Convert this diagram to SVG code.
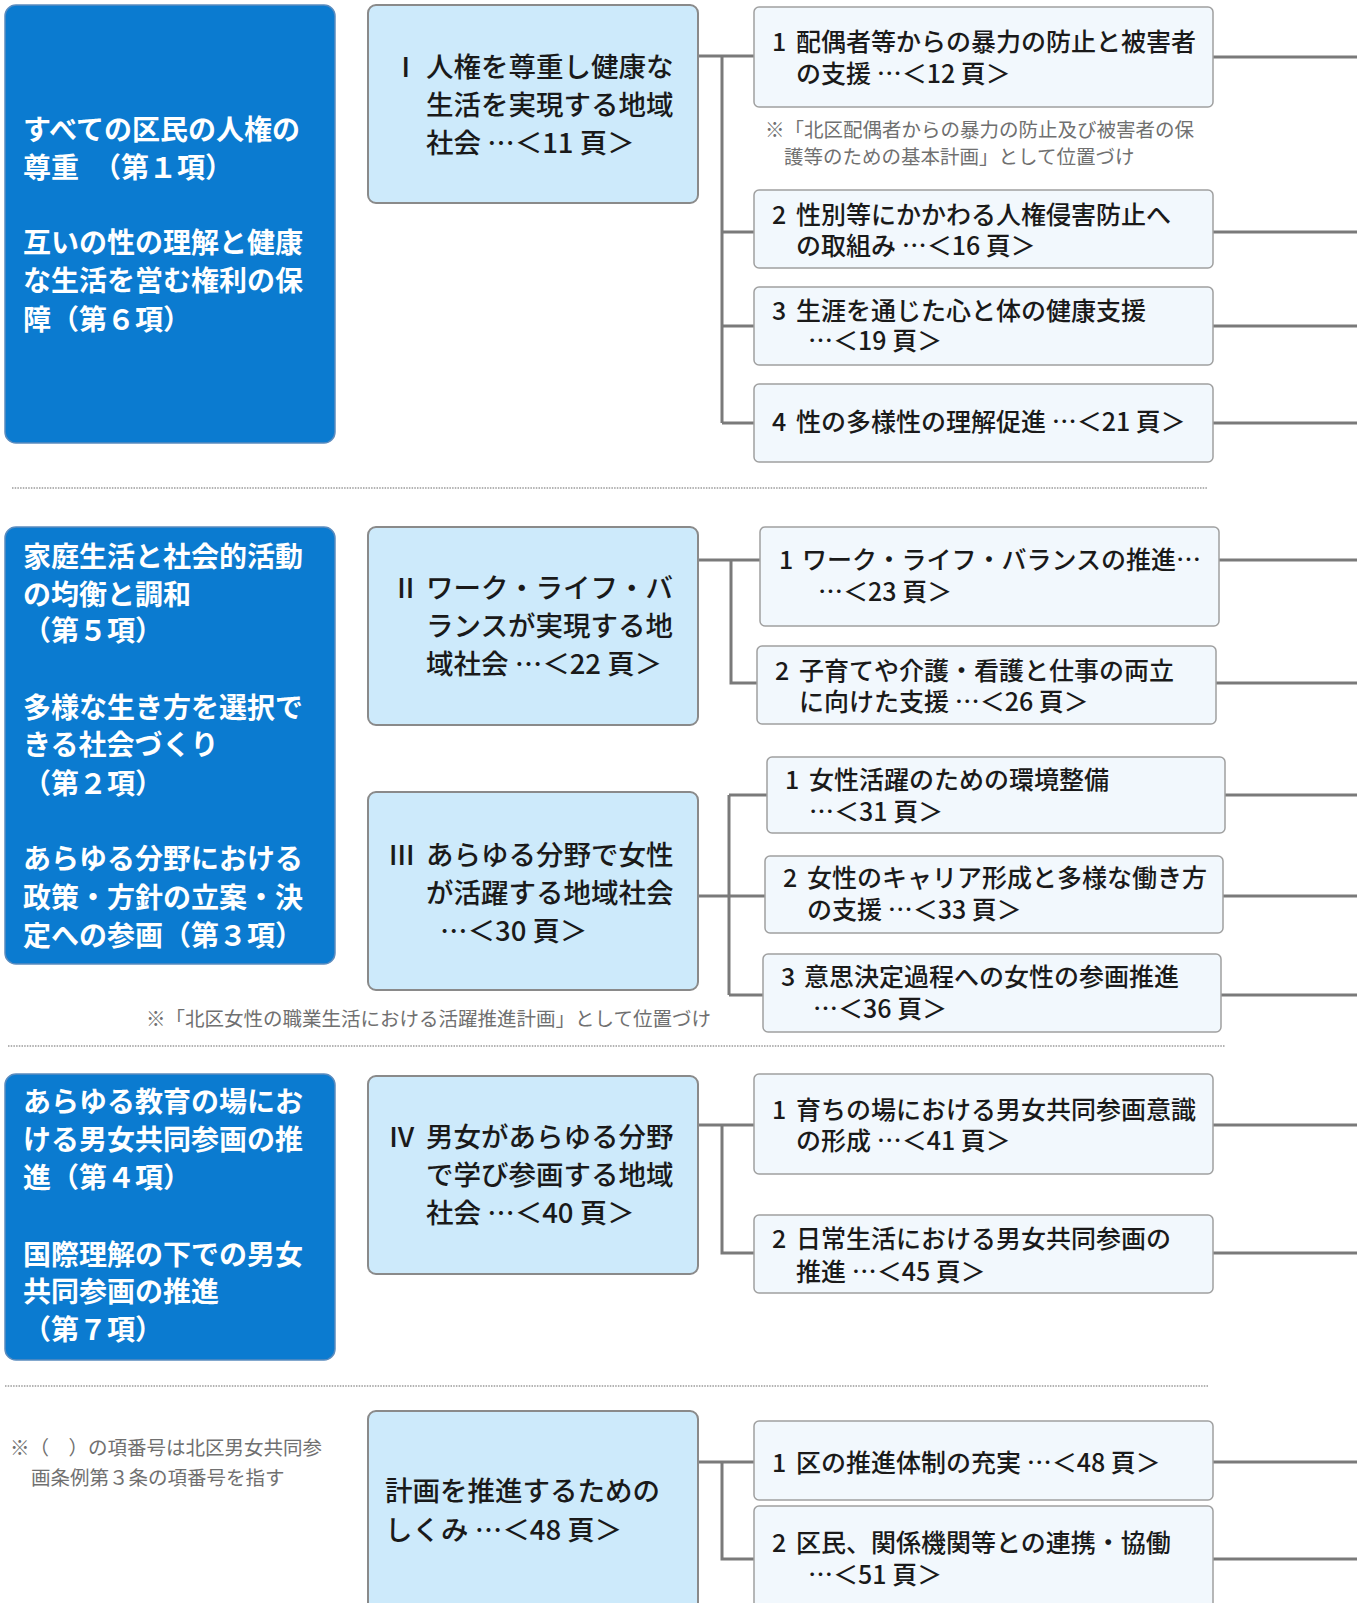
<svg xmlns="http://www.w3.org/2000/svg" width="1365" height="1603" viewBox="0 0 1365 1603">
<style>
.bg{fill:#ffffff}
.blue{fill:#0b7bd0;stroke:#5b8cbf;stroke-width:1.5}
.mid{fill:#cdeafb;stroke:#8a8a8a;stroke-width:2}
.sub{fill:#f2f8fd;stroke:#a0a0a0;stroke-width:1.5}
.tw{font-family:"Noto Sans CJK JP","Noto Sans",sans-serif;font-size:28px;font-weight:bold;fill:#ffffff}
.tm{font-family:"Noto Sans CJK JP","Noto Sans",sans-serif;font-size:27.5px;font-weight:500;fill:#1a1a1a}
.ts{font-family:"Noto Sans CJK JP","Noto Sans",sans-serif;font-size:25px;font-weight:500;fill:#1a1a1a}
.tn{font-family:"Noto Sans CJK JP","Noto Sans",sans-serif;font-size:19.5px;fill:#707070}
.ln{fill:none;stroke:#7a7a7a;stroke-width:3}
.dot{fill:none;stroke:#9a9a9a;stroke-width:1.5;stroke-dasharray:1.5 1.2}
</style>
<rect class="bg" x="0" y="0" width="1365" height="1603"/>

<g id="separators">
<line class="dot" x1="12" y1="488" x2="1208" y2="488"/>
<line class="dot" x1="8" y1="1046" x2="1225" y2="1046"/>
<line class="dot" x1="5" y1="1386" x2="1208" y2="1386"/>
</g>

<g id="connectors">
<path class="ln" d="M698 56 H754 M722 56 V423 M722 232 H754 M722 326 H754 M722 423 H754"/>
<path class="ln" d="M1213 57 H1357 M1213 232 H1357 M1213 326 H1357 M1213 423 H1357"/>
<path class="ln" d="M698 560 H760 M731 560 V683 H757"/>
<path class="ln" d="M1219 560 H1357 M1216 683 H1357"/>
<path class="ln" d="M698 896 H765 M729 795 V995 M729 795 H767 M729 995 H763"/>
<path class="ln" d="M1225 795 H1357 M1223 896 H1357 M1221 995 H1357"/>
<path class="ln" d="M698 1125 H754 M722 1125 V1253 H754"/>
<path class="ln" d="M1213 1125 H1357 M1213 1253 H1357"/>
<path class="ln" d="M698 1462 H754 M722 1462 V1559 H754"/>
<path class="ln" d="M1213 1462 H1357 M1213 1559 H1357"/>
</g>

<g id="blueA">
<rect class="blue" x="5" y="5" width="330" height="438" rx="11"/>
<text class="tw" x="23" y="140">すべての区民の人権の<tspan x="23" dy="38">尊重　（第１項）</tspan><tspan x="23" dy="75">互いの性の理解と健康</tspan><tspan x="23" dy="38">な生活を営む権利の保</tspan><tspan x="23" dy="39">障（第６項）</tspan></text>
</g>
<g id="blueB">
<rect class="blue" x="5" y="527" width="330" height="437" rx="11"/>
<text class="tw" x="23" y="567">家庭生活と社会的活動<tspan x="23" dy="38">の均衡と調和</tspan><tspan x="23" dy="36">（第５項）</tspan><tspan x="23" dy="77">多様な生き方を選択で</tspan><tspan x="23" dy="37">きる社会づくり</tspan><tspan x="23" dy="39">（第２項）</tspan><tspan x="23" dy="75">あらゆる分野における</tspan><tspan x="23" dy="39">政策・方針の立案・決</tspan><tspan x="23" dy="38">定への参画（第３項）</tspan></text>
</g>
<g id="blueC">
<rect class="blue" x="5" y="1074" width="330" height="286" rx="11"/>
<text class="tw" x="23" y="1112">あらゆる教育の場にお<tspan x="23" dy="38">ける男女共同参画の推</tspan><tspan x="23" dy="38">進（第４項）</tspan><tspan x="23" dy="77">国際理解の下での男女</tspan><tspan x="23" dy="37">共同参画の推進</tspan><tspan x="23" dy="38">（第７項）</tspan></text>
</g>

<g id="goal1">
<rect class="mid" x="368" y="5" width="330" height="198" rx="8"/>
<text class="tm" x="392" y="77">Ⅰ</text>
<text class="tm" x="426" y="77">人権を尊重し健康な<tspan x="426" dy="38">生活を実現する地域</tspan><tspan x="426" dy="38">社会 …＜11 頁＞</tspan></text>
</g>
<g id="goal2">
<rect class="mid" x="368" y="527" width="330" height="198" rx="8"/>
<text class="tm" x="392" y="598">Ⅱ</text>
<text class="tm" x="426" y="598">ワーク・ライフ・バ<tspan x="426" dy="38">ランスが実現する地</tspan><tspan x="426" dy="38">域社会 …＜22 頁＞</tspan></text>
</g>
<g id="goal3">
<rect class="mid" x="368" y="792" width="330" height="198" rx="8"/>
<text class="tm" x="388" y="865">Ⅲ</text>
<text class="tm" x="426" y="865">あらゆる分野で女性<tspan x="426" dy="38">が活躍する地域社会</tspan><tspan x="440" dy="38">…＜30 頁＞</tspan></text>
</g>
<g id="goal4">
<rect class="mid" x="368" y="1076" width="330" height="198" rx="8"/>
<text class="tm" x="388" y="1147">Ⅳ</text>
<text class="tm" x="426" y="1147">男女があらゆる分野<tspan x="426" dy="38">で学び参画する地域</tspan><tspan x="426" dy="38">社会 …＜40 頁＞</tspan></text>
</g>
<g id="goal5">
<rect class="mid" x="368" y="1411" width="330" height="210" rx="8"/>
<text class="tm" x="385" y="1501">計画を推進するための<tspan x="385" dy="39">しくみ …＜48 頁＞</tspan></text>
</g>

<g id="r1-1">
<rect class="sub" x="754" y="7" width="459" height="100" rx="5"/>
<text class="ts" x="772" y="51">1</text>
<text class="ts" x="796" y="51">配偶者等からの暴力の防止と被害者<tspan x="796" dy="32">の支援 …＜12 頁＞</tspan></text>
</g>
<g id="note1">
<text class="tn" x="765" y="137">※「北区配偶者からの暴力の防止及び被害者の保<tspan x="784" dy="27">護等のための基本計画」として位置づけ</tspan></text>
</g>
<g id="r1-2">
<rect class="sub" x="754" y="190" width="459" height="78" rx="5"/>
<text class="ts" x="772" y="224">2</text>
<text class="ts" x="796" y="224">性別等にかかわる人権侵害防止へ<tspan x="796" dy="31">の取組み …＜16 頁＞</tspan></text>
</g>
<g id="r1-3">
<rect class="sub" x="754" y="287" width="459" height="78" rx="5"/>
<text class="ts" x="772" y="320">3</text>
<text class="ts" x="796" y="320">生涯を通じた心と体の健康支援<tspan x="808" dy="30">…＜19 頁＞</tspan></text>
</g>
<g id="r1-4">
<rect class="sub" x="754" y="384" width="459" height="78" rx="5"/>
<text class="ts" x="772" y="431">4</text>
<text class="ts" x="796" y="431">性の多様性の理解促進 …＜21 頁＞</text>
</g>

<g id="r2-1">
<rect class="sub" x="760" y="527" width="459" height="99" rx="5"/>
<text class="ts" x="779" y="569">1</text>
<text class="ts" x="802" y="569">ワーク・ライフ・バランスの推進…<tspan x="818" dy="32">…＜23 頁＞</tspan></text>
</g>
<g id="r2-2">
<rect class="sub" x="757" y="646" width="459" height="78" rx="5"/>
<text class="ts" x="775" y="680">2</text>
<text class="ts" x="799" y="680">子育てや介護・看護と仕事の両立<tspan x="799" dy="31">に向けた支援 …＜26 頁＞</tspan></text>
</g>

<g id="r3-1">
<rect class="sub" x="767" y="757" width="458" height="76" rx="5"/>
<text class="ts" x="785" y="789">1</text>
<text class="ts" x="809" y="789">女性活躍のための環境整備<tspan x="809" dy="32">…＜31 頁＞</tspan></text>
</g>
<g id="r3-2">
<rect class="sub" x="765" y="856" width="458" height="77" rx="5"/>
<text class="ts" x="783" y="887">2</text>
<text class="ts" x="807" y="887">女性のキャリア形成と多様な働き方<tspan x="807" dy="32">の支援 …＜33 頁＞</tspan></text>
</g>
<g id="r3-3">
<rect class="sub" x="763" y="954" width="458" height="78" rx="5"/>
<text class="ts" x="781" y="986">3</text>
<text class="ts" x="804" y="986">意思決定過程への女性の参画推進<tspan x="813" dy="32">…＜36 頁＞</tspan></text>
</g>
<g id="note2">
<text class="tn" x="146" y="1026">※「北区女性の職業生活における活躍推進計画」として位置づけ</text>
</g>

<g id="r4-1">
<rect class="sub" x="754" y="1074" width="459" height="100" rx="5"/>
<text class="ts" x="772" y="1119">1</text>
<text class="ts" x="796" y="1119">育ちの場における男女共同参画意識<tspan x="796" dy="31">の形成 …＜41 頁＞</tspan></text>
</g>
<g id="r4-2">
<rect class="sub" x="754" y="1215" width="459" height="78" rx="5"/>
<text class="ts" x="772" y="1248">2</text>
<text class="ts" x="796" y="1248">日常生活における男女共同参画の<tspan x="796" dy="33">推進 …＜45 頁＞</tspan></text>
</g>

<g id="note3">
<text class="tn" x="10" y="1455">※（　）の項番号は北区男女共同参<tspan x="31" dy="30">画条例第３条の項番号を指す</tspan></text>
</g>
<g id="r5-1">
<rect class="sub" x="754" y="1421" width="459" height="79" rx="5"/>
<text class="ts" x="772" y="1472">1</text>
<text class="ts" x="796" y="1472">区の推進体制の充実 …＜48 頁＞</text>
</g>
<g id="r5-2">
<rect class="sub" x="754" y="1506" width="459" height="110" rx="5"/>
<text class="ts" x="772" y="1552">2</text>
<text class="ts" x="796" y="1552">区民、関係機関等との連携・協働<tspan x="808" dy="32">…＜51 頁＞</tspan></text>
</g>
</svg>
